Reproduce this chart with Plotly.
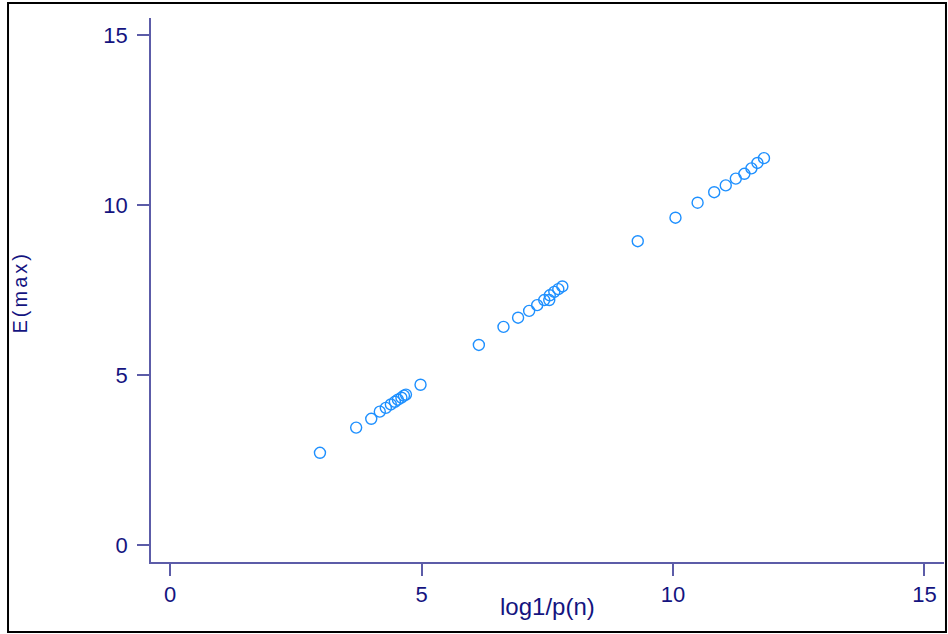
import plotly.graph_objects as go

# log1/p(n) values
x_vals = [2.98, 3.70, 4.00, 4.17, 4.29, 4.39, 4.47, 4.53, 4.60, 4.65, 4.69, 4.98,
          6.14, 6.63, 6.92, 7.14, 7.30, 7.44, 7.54, 7.55, 7.64, 7.72, 7.80,
          9.30, 10.05, 10.49, 10.82, 11.05, 11.25, 11.42, 11.56, 11.68, 11.81]
# E(max) values
y_vals = [2.72, 3.46, 3.72, 3.93, 4.04, 4.14, 4.22, 4.28, 4.34, 4.40, 4.43, 4.72,
          5.89, 6.42, 6.69, 6.89, 7.06, 7.21, 7.21, 7.35, 7.45, 7.53, 7.61,
          8.94, 9.63, 10.07, 10.38, 10.58, 10.78, 10.92, 11.08, 11.24, 11.38]

tick_vals = [0, 5, 10, 15]
tick_text = ["0", "5", "10", "15"]
x_title = "log1/p(n)"
y_title = "E(max)"

axis_col = "#5c5ca8"
text_col = "#14147f"
font_fam = "Liberation Sans, Arial, sans-serif"

fig = go.Figure()
fig.add_trace(go.Scatter(
    x=x_vals, y=y_vals, mode="markers",
    marker=dict(symbol="circle-open", size=11, color="#1e90ff",
                line=dict(width=1.4, color="#1e90ff")),
    showlegend=False,
))

common_axis = dict(
    tickvals=tick_vals, ticktext=tick_text,
    showgrid=False, zeroline=False, showline=True, linecolor=axis_col, linewidth=1.5,
    ticks="outside", ticklen=12, tickcolor=axis_col, tickwidth=1.5,
    tickfont=dict(family=font_fam, size=22, color=text_col),
)

fig.update_layout(
    width=948, height=634,
    margin=dict(l=151, r=4, t=18, b=72),
    paper_bgcolor="white", plot_bgcolor="white",
    font=dict(family=font_fam, size=18, color=text_col),
    xaxis=dict(range=[-0.38, 15.39], **common_axis),
    yaxis=dict(range=[-0.49, 15.5], ticklabelstandoff=5, **common_axis),
    annotations=[
        dict(text=x_title, xref="paper", yref="paper", x=0.5, y=-0.0827,
             xanchor="center", yanchor="middle", showarrow=False,
             font=dict(family=font_fam, size=24, color=text_col)),
        dict(text='<span style="letter-spacing:3px">' + y_title + '</span>',
             xref="paper", yref="paper", x=-0.1658, y=0.4945,
             xanchor="center", yanchor="middle", showarrow=False, textangle=-90,
             font=dict(family=font_fam, size=20, color=text_col)),
    ],
    shapes=[dict(type="rect", xref="paper", yref="paper",
                 x0=-0.1803, x1=1.0025, y0=-0.1287, y1=1.0276,
                 line=dict(color="black", width=2), fillcolor="rgba(0,0,0,0)")],
)

fig.write_html("out.html", config={"displayModeBar": False},
               post_script="document.body.style.margin='0';")
